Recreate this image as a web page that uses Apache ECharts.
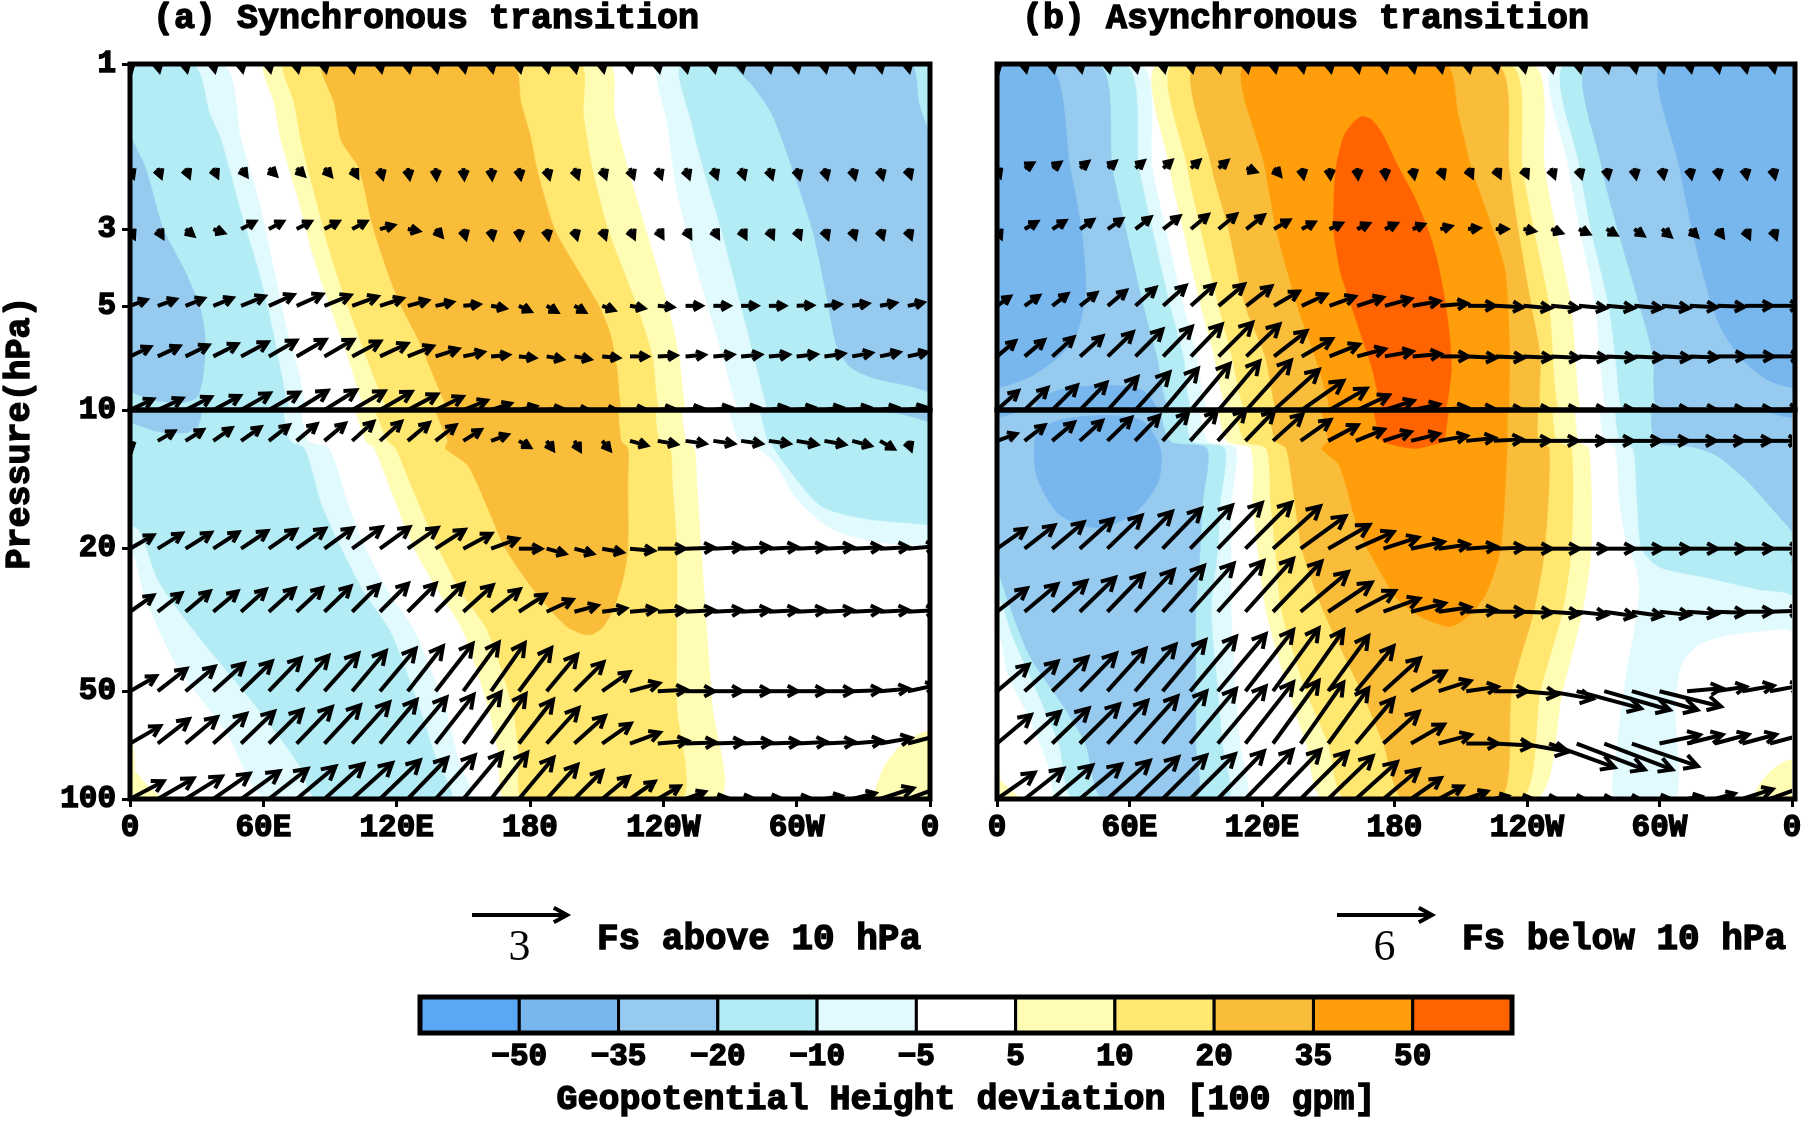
<!DOCTYPE html>
<html>
<head>
<meta charset="utf-8">
<script src="https://cdn.jsdelivr.net/npm/echarts@6/dist/echarts.min.js"></script>
<style>
html,body{margin:0;padding:0;background:#fff}
#chart{width:1805px;height:1123px}
</style>
</head>
<body>
<div id="chart"></div>
<script>
var FONT = '"Liberation Mono", "DejaVu Sans Mono", monospace';

// contour levels and fill colours (11 bands)
var levels = [-50, -35, -20, -10, -5, 5, 10, 20, 35, 50];
var levelLabels = ['\u221250', '\u221235', '\u221220', '\u221210', '\u22125', '5', '10', '20', '35', '50'];
var levelColors = ['#5aa8f5', '#78b6ee', '#96caef', '#b4ecf5', '#e0fafd', '#ffffff',
                   '#fffcb4', '#ffe770', '#f9bd3a', '#ff9e0a', '#ff6400'];

// axes
var lonTicks = [0, 60, 120, 180, 240, 300, 360];
var lonLabels = ['0', '60E', '120E', '180', '120W', '60W', '0'];
var upTicks = [1, 3, 5, 10];
var loTicks = [20, 50, 100];

// regions beyond a level, as [level, [[lon, hPa], ...]]  (lon > 360 wraps round)
var zonesA = [
  [-5, [[239,1],[401,1],[410,1.66],[418,2.5],[425,4],[431,6],[436,7.8],[440,10],[449.5,10.5],[458,15],[466,20],[477,27],[488,34],[501.5,55],[507,75],[512.5,100],
        [422,100],[403,64.5],[381,42.3],[367,27.5],[360,20],[345,19.5],[330,18.8],[315,17.5],[300,14.5],[290,11.5],[280,10.2],[274,10],[268,7.5],[262,5.5],[253,3.5],[246,2.3],[242,1.5]]],
  [-10, [[249,1],[387.5,1],[396,1.4],[401,1.66],[410,2.7],[418,4],[424,5.8],[428,7.8],[432,10],[438.5,10.5],[446,15],[455,20],[466,27],[477,34],[490,55],[497,75],[504,100],
         [444,100],[436,80],[416.6,55],[389,34],[373,24.7],[364.5,17.9],[360,17.2],[331,16.5],[311,15.2],[295,11.7],[289,10.3],[287,10],[282,7.5],[275,5],[266,3],[258,2],[253,1.5]]],
  [-20, [[272,1],[351,1],[355,1.3],[360,1.6],[367,2],[375,3],[385,4],[392,5.2],[394,6.5],[393,7.8],[392,8.5],[390,9.2],[384,9.5],[372,9.4],[363,9.0],
         [350,8.5],[335,8.1],[324,7.5],[318,6.5],[313,4.5],[307,3.0],[298,2],[289,1.4],[280,1.15]]],
  [5, [[61,1],[65,1.3],[68,1.66],[76,2.5],[82,3.5],[90,5],[98,7],[106,10],[110,10.5],[118,14],[128,20],[140,27],[150,34],[161,55],[166,75],[169,100],
       [265,100],[262,55],[259.5,34],[257,20],[255,13],[254,10.5],[250,10],[247,7],[242,5],[232,3],[224,2],[218,1.4],[215,1]]],
  [5, [[0,82],[8,92],[14,100],[0,100]]],
  [5, [[360,65],[348,70],[340,80],[336,92],[335,100],[360,100]]],
  [10, [[70,1],[74,1.3],[77,1.66],[84,2.5],[90,3.5],[98,5],[108,7.5],[116,10],[119.6,10.5],[128,14],[139,20],[150,27],[161,34],[172,55],[175,75],[177,100],
        [248,100],[246,55],[246,34],[246,20],[244,13],[243,10.5],[238,10],[235,7],[228,5],[215,3],[208,2],[204,1.4],[202,1]]],
  [20, [[87,1],[92,1.3],[95,1.66],[103,2],[109,2.9],[116,4],[122,5],[130,6.3],[133,7],[140,9],[143,10],[142,10.5],[152,11.7],[161,15.4],[169,20],[183,26.7],[196,32.8],[203,34.5],
        [208,34.7],[213,33],[218,29],[222,24],[224,20],[224,13],[224,10.5],[221,10],[219,7.5],[216,6],[211,5],[200,3.8],[191,3],[183,2],[180,1.6],[176,1.3],[172,1]]]
];

var zonesB = [
  [-5, [[252,1],[424,1],[430,2],[436,3],[444,5],[450,7],[455,10],[468,10.5],[466,15],[466,20],[466,30],[468,50],[470,70],[472,100],
        [388,100],[383,80],[375,60],[365,45],[360,34],[345,34],[330,35],[318,37],[310,42],[307,55],[307,100],[280,100],[281,70],[285,45],[289,33],[291,26],
        [289,22],[285,19],[282,15],[280,10.5],[275,10],[272,7],[270,5],[263,3],[258,2]]],
  [-10, [[257,1],[417,1],[424,2],[430,3],[438,5],[444,7],[448,10],[463,10.5],[461,15],[460,20],[457,30],[460,50],[462,70],[464,100],
         [395,100],[388,70],[378,50],[367,35],[360,27],[345,26],[320,24],[300,22.5],[292,20],[290,15],[288,10.5],[282,10],[279,7],[276,5],[268,3],[263,2]]],
  [-20, [[267,1],[405,1],[412,2],[418,3],[426,5],[432,7],[438,10],[455,10.5],[453,15],[452,20],[450,30],[450,50],[450,70],[450,100],
         [408,100],[400,70],[390,55],[375,40],[365,28],[360,22],[360,18],[355,16.5],[340,13],[326,11],[315,10.4],[298,10],[296,7],[290,5],[280,3],[273,2]]],
  [-35, [[300,1],[383,1],[393,2],[398,3],[400,4.5],[396,6],[388,7],[375,8],[360,8.6],[348,8.2],[335,7],[325,5.5],[316,3.5],[308,2]]],
  [-35, [[18,9.5],[30,8.7],[50,8.5],[66,8.8],[74,10.5],[73,13],[62,16],[45,17.5],[28,16],[18,12.5]]],
  [5, [[73,1],[78,2],[84,3],[92,5],[98,7],[104,10],[115,10.5],[116,15],[118,20],[122,30],[132,50],[140,70],[148,100],
       [244,100],[256,50],[265,30],[269,20],[268,10.5],[263,10],[259,5],[252,3],[247,2],[241,1]]],
  [5, [[0,88],[6,94],[10,100],[0,100]]],
  [5, [[360,78],[352,82],[346,90],[343,100],[360,100]]],
  [10, [[80,1],[86,2],[92,3],[100,5],[106,7],[112,10],[122,10.5],[124,15],[126,20],[129,30],[140,50],[150,70],[158,100],
        [237,100],[246,50],[256,30],[260,20],[260,10.5],[253,10],[249,5],[242,3],[237,2],[231,1]]],
  [20, [[90,1],[97,2],[104.5,3],[112,5],[121,7],[126,10],[131,10.5],[135,15],[138,20],[148,30],[165,50],[175,70],[184,100],
        [228,100],[233,50],[243,30],[248,20],[250,10.5],[245,10],[245,7],[241,5],[235,3],[231,2],[225,1]]],
  [35, [[112,1],[121,2],[126,3],[135.5,5],[145,7.5],[150,10],[147,10.5],[155,11.7],[164,17.9],[175,24],[181,27.5],[192,31],[205,33],
        [213,31],[221,27],[228,20],[231,10.5],[231,10],[231,6],[229,3.9],[222,2.8],[214,2],[208,1.4],[202,1]]],
  [50, [[164,1.42],[157,1.59],[153,1.98],[152,2.5],[152,3.08],[155,4],[159,4.8],[164,6],[169,7.5],[174,9.96],[178,10.2],[184,10.4],[190,10.5],[196,10.3],[202,10.0],
        [204,8.7],[205,7.5],[204,6],[202,4.8],[199,3.8],[195,3.08],[188,2.4],[181,1.98],[174,1.6],[169,1.45]]]
];

// E-P flux vectors: tails on these longitudes and levels; magnitude (reference units) and direction (deg)
var lonCols = [0, 12.5, 25, 37.5, 50, 62.5, 75, 87.5, 100, 112.5, 125, 137.5, 150, 162.5, 175,
               187.5, 200, 212.5, 225, 237.5, 250, 262.5, 275, 287.5, 300, 312.5, 325, 337.5, 350];
var upLevels = [1, 2, 3, 5, 7, 10];
var loLevels = [10, 20, 30, 50, 70, 100];
var refUpper = 3, refLower = 6, refLenPx = 95;

var aUpMag = [
  [.22,.22,.22,.22,.22,.22,.22,.22,.22,.22, .22,.22,.22,.22,.22,.22,.22,.22,.22,.22, .22,.22,.22,.22,.22,.22,.22,.22,.22],
  [.3,.3,.3,.3,.3,.32,.32,.32,.32,.32, .32,.32,.32,.32,.32,.32,.32,.32,.32,.32, .32,.32,.32,.32,.32,.32,.32,.32,.3],
  [.3,.3,.32,.35,.5,.5,.5,.5,.5,.45, .35,.3,.3,.3,.3,.3,.3,.3,.3,.3, .3,.3,.3,.3,.3,.3,.3,.3,.3],
  [.55,.6,.62,.65,.8,.85,.88,.88,.85,.75, .65,.55,.5,.45,.4,.38,.38,.4,.45,.48, .5,.5,.5,.5,.5,.5,.5,.5,.5],
  [.7,.75,.8,.85,.95,1.0,1.05,1.05,1.0,.95, .85,.75,.65,.55,.5,.5,.5,.52,.55,.58, .6,.62,.62,.62,.62,.62,.62,.62,.62],
  [.8,.85,.9,.95,1.05,1.1,1.15,1.18,1.18,1.15, 1.05,.95,.8,.65,.55,.5,.45,.45,.48,.5, .52,.55,.55,.55,.55,.55,.55,.55,.55]
];
var aUpDir = [
  [-78,-78,-78,-78,-78,-78,-78,-78,-78,-78, -78,-78,-78,-78,-78,-78,-78,-78,-78,-78, -78,-78,-78,-78,-78,-78,-78,-78,-78],
  [-70,-70,-68,-65,-55,-45,-45,-50,-60,-75, -80,-85,-85,-85,-80,-75,-70,-70,-70,-70, -70,-70,-72,-72,-75,-75,-75,-75,-72],
  [-65,-60,-40,-20,28,28,28,28,28,15, -10,-50,-75,-80,-85,-80,-75,-70,-65,-60, -60,-60,-62,-65,-68,-70,-72,-72,-70],
  [20,20,22,22,22,24,24,22,20,18, 15,12,5,-10,-25,-30,-30,-20,-10,-5, 0,0,0,0,2,5,8,10,12],
  [25,25,26,27,28,30,30,30,28,25, 22,18,12,5,-5,-10,-10,-5,0,3, 5,5,5,5,6,8,10,12,12],
  [25,25,27,28,30,30,32,32,30,30, 28,26,22,18,12,5,0,0,3,5, 6,8,8,8,8,8,8,8,10]
];
var aLoMag = [
  [.6,1.2,1.3,1.4,1.5,1.6,1.65,1.7,1.8,1.8, 1.75,1.6,1.3,1.1,.8,.7,.7,.75,1.1,1.2, 1.25,1.3,1.3,1.3,1.3,1.3,1.2,1.0,.6],
  [1.7,1.8,1.9,1.9,2.0,2.1,2.2,2.2,2.3,2.3, 2.3,2.2,2.0,1.8,1.4,1.2,1.2,1.3,1.5,1.7, 1.8,1.8,1.8,1.8,1.8,1.8,1.8,1.8,1.8],
  [1.8,1.9,2.0,2.0,2.1,2.2,2.2,2.3,2.4,2.5, 2.5,2.5,2.5,2.3,2.0,1.8,1.5,1.5,1.6,1.7, 1.8,1.8,1.8,1.8,1.8,1.8,1.8,1.8,1.8],
  [1.9,2.3,2.4,2.6,2.7,2.9,3.0,3.2,3.3,3.5, 3.6,3.8,3.8,3.7,3.4,3.0,2.6,2.1,1.9,1.8, 1.8,1.8,1.8,1.8,1.8,1.8,1.8,1.8,1.8],
  [2.2,2.5,2.6,2.8,2.9,3.0,3.2,3.3,3.5,3.6, 3.8,3.9,4.0,3.8,3.5,3.0,2.6,2.2,2.0,1.9, 1.9,1.9,1.9,1.9,1.9,1.9,1.9,2.0,2.2],
  [2.4,2.6,2.7,2.8,3.0,3.1,3.2,3.3,3.4,3.5, 3.6,3.7,3.8,3.7,3.4,2.9,2.5,2.2,1.9,1.6, 1.3,.8,.7,.7,.8,1.1,1.5,2.2,2.6]
];
var aLoDir = [
  [-80,30,32,35,35,38,40,40,42,42, 40,38,32,20,-30,-55,-60,-50,-15,-10, -8,-8,-8,-8,-10,-10,-15,-30,-70],
  [30,32,32,33,34,35,35,36,36,36, 35,33,28,20,0,-15,-15,-10,-5,0, 2,3,3,3,3,3,3,3,5],
  [35,38,40,40,42,42,43,44,45,45, 45,45,42,38,33,25,15,8,5,3, 3,3,3,3,3,3,3,3,3],
  [30,38,40,42,44,46,48,48,50,50, 52,52,54,55,53,50,45,35,15,3, 0,0,0,0,0,0,2,5,12],
  [30,38,40,42,44,45,46,47,48,50, 50,52,54,55,52,48,42,35,20,5, 2,2,2,2,3,3,5,10,15],
  [28,30,32,35,36,38,40,42,42,44, 46,48,50,52,50,48,45,40,35,30, 20,8,5,5,5,10,14,18,20]
];
var bUpMag = [
  [.22,.22,.22,.22,.22,.22,.22,.22,.22,.22, .22,.22,.22,.22,.22,.22,.22,.22,.22,.22, .22,.22,.22,.22,.22,.22,.22,.22,.22],
  [.28,.3,.3,.32,.32,.34,.35,.36,.36,.32, .3,.3,.3,.3,.3,.3,.3,.3,.3,.3, .3,.3,.3,.3,.3,.3,.3,.3,.3],
  [.3,.45,.48,.5,.55,.6,.65,.7,.72,.7, .55,.45,.42,.4,.4,.38,.35,.35,.35,.35, .35,.35,.35,.35,.35,.33,.3,.3,.3],
  [.5,.55,.6,.65,.75,.85,.95,1.0,1.05,1.0, .9,.85,.85,.85,.85,.85,.85,.85,.85,.85, .85,.85,.85,.85,.85,.85,.85,.85,.85],
  [.75,.8,.9,.95,1.1,1.2,1.3,1.4,1.5,1.45, 1.3,1.1,1.0,.9,.88,.88,.88,.88,.88,.88, .88,.88,.88,.88,.88,.88,.88,.88,.88],
  [.9,1.0,1.1,1.2,1.4,1.6,1.7,1.9,2.0,2.1, 1.9,1.6,1.35,1.1,.95,.85,.85,.85,.85,.85, .85,.85,.85,.85,.85,.85,.85,.85,.85]
];
var bUpDir = [
  [-78,-78,-78,-78,-78,-78,-78,-78,-78,-78, -78,-78,-78,-78,-78,-78,-78,-78,-78,-78, -78,-78,-78,-78,-78,-78,-78,-78,-78],
  [-70,30,35,38,40,40,42,42,40,-20, -50,-80,-85,-85,-85,-80,-70,-65,-65,-65, -70,-75,-80,-80,-80,-80,-80,-80,-78],
  [-65,30,32,35,35,38,38,40,40,38, 30,28,25,25,25,22,15,5,0,-10, -20,-25,-30,-35,-40,-45,-55,-65,-70],
  [35,35,38,38,40,42,42,42,40,38, 30,25,20,18,15,10,5,0,-3,-5, -5,-5,-5,-5,-5,-3,-2,0,0],
  [40,40,42,42,44,45,46,46,45,44, 38,30,22,15,10,5,0,-3,-3,-3, -3,-3,-3,-3,-3,-2,0,0,0],
  [42,44,45,46,48,48,50,50,50,48, 42,35,30,25,18,12,5,2,0,0, 0,0,0,0,0,0,0,0,2]
];
var bLoMag = [
  [1.3,1.6,1.8,1.9,2.1,2.2,2.4,2.5,2.6,2.6, 2.5,2.3,2.1,1.9,1.8,1.8,1.8,1.8,1.8,1.8, 1.8,1.8,1.8,1.8,1.8,1.8,1.8,1.8,1.8],
  [2.2,2.4,2.6,2.8,3.0,3.3,3.5,3.8,4.0,4.1, 4.0,3.5,3.0,2.6,2.3,2.1,1.9,1.9,1.9,1.9, 1.9,1.9,1.9,1.9,1.9,1.9,1.9,1.9,1.9],
  [2.4,2.7,2.9,3.1,3.3,3.6,3.9,4.1,4.3,4.5, 4.4,3.9,3.3,2.8,2.4,2.2,2.0,1.9,1.9,1.9, 1.9,1.9,1.9,1.9,1.9,1.9,1.9,1.9,1.9],
  [2.6,2.8,3.1,3.3,3.6,3.9,4.2,4.5,4.7,4.9, 4.9,4.7,4.3,3.7,3.1,2.5,2.1,2.0,2.1,2.3, 2.8,4.2,4.3,4.3,4.0,2.2,2.0,2.0,2.0],
  [2.8,3.0,3.2,3.5,3.7,4.0,4.3,4.5,4.7,4.9, 4.9,4.7,4.3,3.7,3.0,2.4,2.1,2.0,2.4,3.0, 4.4,4.6,4.6,4.4,2.6,2.3,2.2,2.2,2.3],
  [2.9,3.1,3.3,3.4,3.6,3.8,3.9,4.0,4.2,4.3, 4.3,4.2,3.9,3.5,2.9,2.3,1.7,1.4,.9,.6, .5,.5,.5,.5,.6,.9,1.3,2.0,2.4]
];
var bLoDir = [
  [20,38,40,42,44,46,48,48,48,46, 42,35,28,22,18,14,10,6,3,0, 0,0,0,0,0,0,0,0,0],
  [35,38,40,42,44,45,46,46,46,45, 42,36,30,24,18,12,8,4,2,0, 0,0,0,0,0,0,0,0,0],
  [38,40,42,44,46,47,48,48,48,48, 46,40,34,28,20,14,8,3,0,-2, -4,-6,-8,-8,-6,-4,-2,0,2],
  [40,42,44,46,48,49,50,50,50,52, 54,55,54,50,42,30,18,8,0,-5, -10,-15,-16,-16,-14,5,8,10,10],
  [40,42,44,45,47,48,50,50,50,52, 54,55,54,50,42,30,15,0,-3,-10, -20,-21,-21,-19,12,14,15,15,15],
  [35,38,40,40,42,44,45,45,46,46, 46,45,44,42,40,35,28,20,12,5, 0,0,0,0,5,10,15,18,20]
];

// layout
var panels = [
  {left: 130, width: 800},
  {left: 997, width: 798}
];
var upTop = 64, upH = 346, loTop = 410, loH = 389;
var unitUp = refLenPx / refUpper, unitLo = refLenPx / refLower;
var heavy = {textBorderColor: '#000', textBorderWidth: 1.4};

function zoneColor(t) {
  var i = levels.indexOf(t);
  return levelColors[t > 0 ? i + 1 : i];
}

function zoneSeries(zones, xi, yi) {
  return {
    type: 'custom', xAxisIndex: xi, yAxisIndex: yi, clip: true, silent: true, z: 1,
    data: zones.map(function (z, i) { return [z[1][0][0] % 360, z[1][0][1], i]; }),
    renderItem: function (params, api) {
      var z = zones[params.dataIndex];
      var col = zoneColor(z[0]);
      var kids = [-360, 0].map(function (off) {
        return {
          type: 'polygon',
          shape: {points: z[1].map(function (pt) { return api.coord([pt[0] + off, pt[1]]); }), smooth: 0.25},
          style: {fill: col, stroke: col, lineWidth: 0.6}
        };
      });
      return {type: 'group', children: kids};
    }
  };
}

function arrowEls(x0, y0, len, ang, lw) {
  var ca = Math.cos(ang), sa = Math.sin(ang);
  var x1 = x0 + len * ca, y1 = y0 - len * sa;
  var h = Math.max(9, Math.min(15, 0.18 * len + 6)), s = 0.5;
  var b1 = [x1 - h * Math.cos(ang - s), y1 + h * Math.sin(ang - s)];
  var b2 = [x1 - h * Math.cos(ang + s), y1 + h * Math.sin(ang + s)];
  return [
    {type: 'polyline', shape: {points: [[x0, y0], [x1, y1]]}, style: {stroke: '#000', lineWidth: lw, fill: null}},
    {type: 'polyline', shape: {points: [b1, [x1, y1], b2]}, style: {stroke: '#000', lineWidth: lw, fill: null, lineJoin: 'miter'}}
  ];
}

function arrowSeries(mags, dirs, levs, unit, xi, yi) {
  var data = [];
  levs.forEach(function (p, r) {
    lonCols.forEach(function (lon, c) { data.push([lon, p, mags[r][c], dirs[r][c]]); });
  });
  return {
    type: 'custom', xAxisIndex: xi, yAxisIndex: yi, clip: true, silent: true, z: 5,
    data: data,
    renderItem: function (params, api) {
      var c = api.coord([api.value(0), api.value(1)]);
      return {type: 'group', children: arrowEls(c[0], c[1], api.value(2) * unit, api.value(3) * Math.PI / 180, 4)};
    }
  };
}

function xAx(gi, show) {
  return {
    gridIndex: gi, type: 'value', min: 0, max: 360, interval: 60, show: show,
    axisLine: {show: false}, splitLine: {show: false},
    axisTick: {show: true, length: 8, lineStyle: {color: '#000', width: 3}},
    axisLabel: Object.assign({
      showMinLabel: true, showMaxLabel: true, margin: 14,
      fontFamily: FONT, fontWeight: 'bold', fontSize: 31, color: '#000',
      formatter: function (v) { return lonLabels[lonTicks.indexOf(v)]; }
    }, heavy)
  };
}

function yAx(gi, min, max, ticks, show) {
  return {
    gridIndex: gi, type: 'log', logBase: 10, min: min, max: max, inverse: true,
    axisLine: {show: false}, splitLine: {show: false},
    axisTick: {show: show, customValues: ticks, length: 8, lineStyle: {color: '#000', width: 3}},
    axisLabel: Object.assign({show: show, customValues: ticks, margin: 14, fontFamily: FONT, fontWeight: 'bold', fontSize: 31, color: '#000'}, heavy)
  };
}

var grids = [], xAxes = [], yAxes = [], series = [], graphics = [];
var zoneSets = [zonesA, zonesB];
var mags = [[aUpMag, aLoMag], [bUpMag, bLoMag]];
var dirs = [[aUpDir, aLoDir], [bUpDir, bLoDir]];

panels.forEach(function (pn, k) {
  var gu = grids.length, gl = gu + 1;
  grids.push({left: pn.left, top: upTop, width: pn.width, height: upH});
  grids.push({left: pn.left, top: loTop, width: pn.width, height: loH});
  xAxes.push(xAx(gu, false));
  xAxes.push(xAx(gl, true));
  yAxes.push(yAx(gu, 1, 10, upTicks, k === 0));
  yAxes.push(yAx(gl, 8.2, 100, loTicks, k === 0));
  series.push(zoneSeries(zoneSets[k], gu, gu));
  series.push(zoneSeries(zoneSets[k], gl, gl));
  series.push(arrowSeries(mags[k][0], dirs[k][0], upLevels, unitUp, gu, gu));
  series.push(arrowSeries(mags[k][1], dirs[k][1], loLevels, unitLo, gl, gl));
  graphics.push({type: 'rect', z: 100, silent: true, shape: {x: pn.left, y: upTop, width: pn.width, height: upH},
                 style: {fill: null, stroke: '#000', lineWidth: 5}});
  graphics.push({type: 'rect', z: 100, silent: true, shape: {x: pn.left, y: loTop, width: pn.width, height: loH},
                 style: {fill: null, stroke: '#000', lineWidth: 5}});
});

// colour bar
var cbGrid = grids.length;
grids.push({left: 420, top: 997, width: 1092, height: 36});
xAxes.push({
  gridIndex: cbGrid, type: 'value', min: 0, max: levelColors.length, interval: 1,
  axisLine: {show: false}, axisTick: {show: false}, splitLine: {show: false},
  axisLabel: Object.assign({
    margin: 9, fontFamily: FONT, fontWeight: 'bold', fontSize: 31, color: '#000',
    formatter: function (v) { return (v >= 1 && v <= levels.length) ? levelLabels[v - 1] : ''; }
  }, heavy)
});
yAxes.push({gridIndex: cbGrid, type: 'value', min: 0, max: 1, show: false});
series.push({
  type: 'custom', xAxisIndex: cbGrid, yAxisIndex: cbGrid, silent: true, z: 3,
  data: levelColors.map(function (c, i) { return [i, 0]; }),
  renderItem: function (params, api) {
    var i = api.value(0);
    var p0 = api.coord([i, 0]), p1 = api.coord([i + 1, 1]);
    return {type: 'rect', shape: {x: p0[0], y: p1[1], width: p1[0] - p0[0], height: p0[1] - p1[1]},
            style: {fill: levelColors[i], stroke: '#000', lineWidth: 3}};
  }
});
graphics.push({type: 'rect', z: 100, silent: true, shape: {x: 420, y: 997, width: 1092, height: 36},
               style: {fill: null, stroke: '#000', lineWidth: 5}});

// reference vectors and texts
var legends = [
  {x: 472, num: refUpper, text: 'Fs above 10 hPa', unit: unitUp},
  {x: 1337, num: refLower, text: 'Fs below 10 hPa', unit: unitLo}
];
legends.forEach(function (lg) {
  var len = lg.num * lg.unit;
  graphics.push({type: 'group', z: 100, silent: true, children: arrowEls(lg.x, 915, len, 0, 4)});
  graphics.push({type: 'text', z: 100, silent: true, x: lg.x + len / 2, y: 948,
                 style: {text: String(lg.num), fontFamily: '"Liberation Serif", serif', fontSize: 44, fill: '#000', align: 'center', verticalAlign: 'middle'}});
  graphics.push({type: 'text', z: 100, silent: true, x: lg.x + len + 30, y: 940,
                 style: {text: lg.text, fontFamily: FONT, fontWeight: 'bold', fontSize: 36, fill: '#000', align: 'left', verticalAlign: 'middle',
                         stroke: '#000', lineWidth: 1.4}});
});
graphics.push({type: 'text', z: 100, silent: true, x: 966, y: 1100,
               style: {text: 'Geopotential Height deviation [100 gpm]', fontFamily: FONT, fontWeight: 'bold', fontSize: 35, fill: '#000',
                       align: 'center', verticalAlign: 'middle', stroke: '#000', lineWidth: 1.4}});
graphics.push({type: 'text', z: 100, silent: true, x: 20, y: 433, rotation: Math.PI / 2,
               style: {text: 'Pressure(hPa)', fontFamily: FONT, fontWeight: 'bold', fontSize: 35, fill: '#000',
                       align: 'center', verticalAlign: 'middle', stroke: '#000', lineWidth: 1.4}});

var chart = echarts.init(document.getElementById('chart'));
chart.setOption({
  backgroundColor: '#fff',
  animation: false,
  title: [
    {text: '(a) Synchronous transition', left: 153, top: 2, padding: 0,
     textStyle: Object.assign({fontFamily: FONT, fontWeight: 'bold', fontSize: 35, color: '#000'}, heavy)},
    {text: '(b) Asynchronous transition', left: 1022, top: 2, padding: 0,
     textStyle: Object.assign({fontFamily: FONT, fontWeight: 'bold', fontSize: 35, color: '#000'}, heavy)}
  ],
  grid: grids,
  xAxis: xAxes,
  yAxis: yAxes,
  series: series,
  graphic: graphics
});
</script>
</body>
</html>
